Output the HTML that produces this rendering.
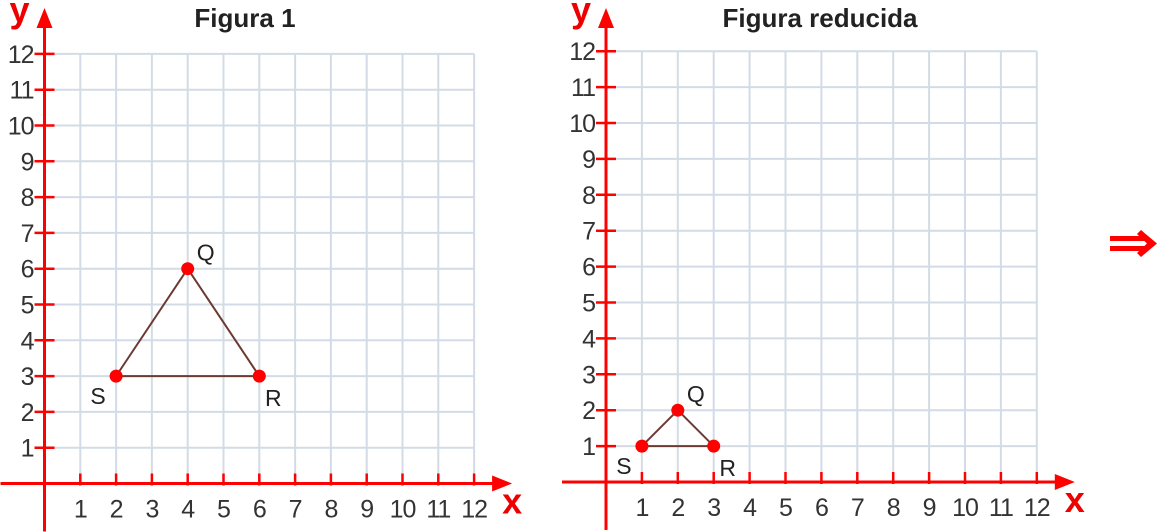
<!DOCTYPE html>
<html><head><meta charset="utf-8"><style>
html,body{margin:0;padding:0;background:#fff;}
svg{display:block;font-family:"Liberation Sans","DejaVu Sans",sans-serif;}
</style></head><body>
<svg id="chart" width="1158" height="532" viewBox="0 0 1158 532">
  <text x="245" y="27" font-size="26" font-weight="bold" fill="#222" text-anchor="middle">Figura 1</text>
  <text x="820" y="27" font-size="26" font-weight="bold" fill="#222" text-anchor="middle">Figura reducida</text>
  <g>
    <rect x="1110" y="236" width="36" height="5" fill="#f00"/>
    <rect x="1110" y="246" width="36" height="5" fill="#f00"/>
    <polygon points="1141,230 1157,243.5 1141,257 1137,253 1147,243.5 1137,234" fill="#f00"/>
  </g>
</svg>
<script>
const tickValues = [1,2,3,4,5,6,7,8,9,10,11,12];
const fig1Labels = ['Q','R','S'];
const fig1X = [4,6,2];
const fig1Y = [6,3,3];
const fig2Labels = ['Q','R','S'];
const fig2X = [2,3,1];
const fig2Y = [2,1,1];

const svg = document.getElementById('chart');
const NS = 'http://www.w3.org/2000/svg';
function mk(tag, attrs, parent){
  const e = document.createElementNS(NS, tag);
  for (const k in attrs) e.setAttribute(k, attrs[k]);
  (parent||svg).appendChild(e);
  return e;
}
function drawChart(ox, oy, unit, xs, ys, labels, name, labelOffsets){
  const g = mk('g', {});
  
  
  const sx = v => ox + v*unit;
  const sy = v => oy - v*unit;
  const maxV = tickValues[tickValues.length-1];
  tickValues.forEach(v => {
    const h = mk('line', {x1: ox+4, y1: sy(v), x2: sx(maxV), y2: sy(v), stroke:'#d3dce6', 'stroke-width':2}, g);
    
    
    const vl = mk('line', {x1: sx(v), y1: sy(maxV), x2: sx(v), y2: oy-4, stroke:'#d3dce6', 'stroke-width':2}, g);
    
    
  });
  const xa = mk('line', {x1: ox-44, y1: oy, x2: sx(maxV)+20, y2: oy, stroke:'#f00', 'stroke-width':3}, g);
  
  
  mk('polygon', {points: `${sx(maxV)+38},${oy} ${sx(maxV)+18},${oy-8} ${sx(maxV)+18},${oy+8}`, fill:'#f00'}, g);
  const ya = mk('line', {x1: ox, y1: oy+48, x2: ox, y2: 22, stroke:'#f00', 'stroke-width':3}, g);
  
  
  mk('polygon', {points: `${ox},8 ${ox-8},28 ${ox+8},28`, fill:'#f00'}, g);
  const xt = mk('text', {x: sx(maxV)+38, y: oy+30, 'font-size':36, 'font-weight':'bold', fill:'#e00', 'text-anchor':'middle'}, g);
  xt.textContent = 'x';
  
  
  const yt = mk('text', {x: ox-25, y: 22, 'font-size':36, 'font-weight':'bold', fill:'#e00', 'text-anchor':'middle'}, g);
  yt.textContent = 'y';
  
  
  tickValues.forEach(v => {
    mk('line', {x1: sx(v), y1: oy-10, x2: sx(v), y2: oy+2, stroke:'#f00', 'stroke-width':2.5}, g);
    mk('line', {x1: ox-10, y1: sy(v), x2: ox+10, y2: sy(v), stroke:'#f00', 'stroke-width':2.5}, g);
    const tl = mk('text', {x: sx(v), y: oy+34, 'font-size':25, fill:'#333', 'text-anchor':'middle', 'letter-spacing':'-1'}, g);
    tl.textContent = v;
    
    
    const yl = mk('text', {x: ox-11, y: sy(v)+9, 'font-size':25, fill:'#333', 'text-anchor':'end', 'letter-spacing':'-1'}, g);
    yl.textContent = v;
    
    
  });
  const pts = xs.map((x,i)=>`${sx(x)},${sy(ys[i])}`).join(' ');
  const tri = mk('polygon', {points: pts, fill:'none', stroke:'#6b3a32', 'stroke-width':2}, g);
  
  
  xs.forEach((x,i) => {
    const c = mk('circle', {cx: sx(x), cy: sy(ys[i]), r: 6.5, fill:'#f00'}, g);
    
    
    const o = labelOffsets[labels[i]];
    const t = mk('text', {x: sx(x)+o[0], y: sy(ys[i])+o[1], 'font-size':23, fill:'#222', 'text-anchor':'middle'}, g);
    t.textContent = labels[i];
    
    
  });
}
const offs = {Q:[18,-8], R:[14,30], S:[-18,28]};
drawChart(44.5, 483.5, 35.8, fig1X, fig1Y, fig1Labels, 'figure-1-chart', offs);
drawChart(606, 482, 35.9, fig2X, fig2Y, fig2Labels, 'reduced-figure-chart', offs);
</script>
</body></html>
